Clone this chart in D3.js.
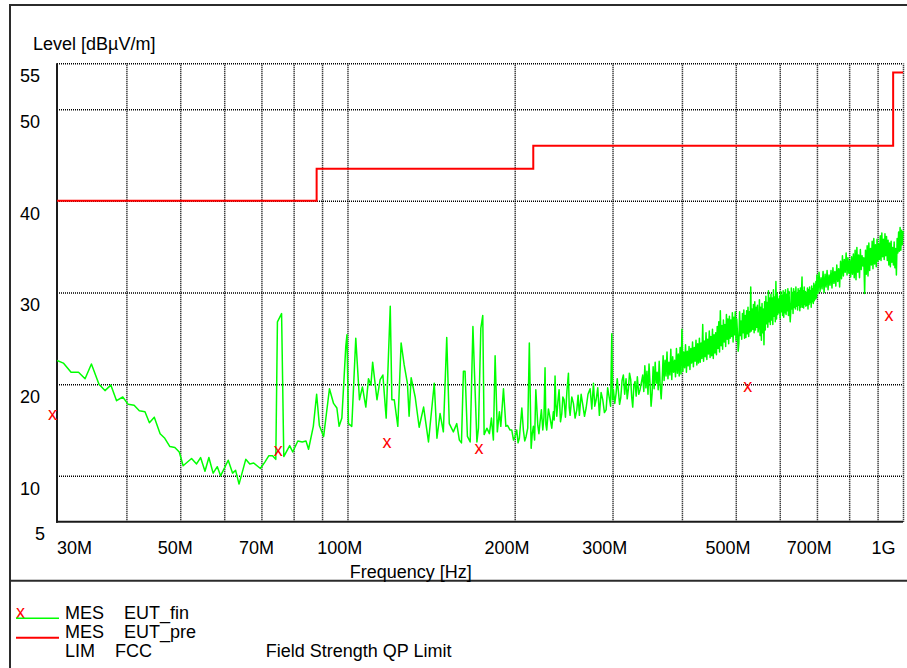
<!DOCTYPE html>
<html>
<head>
<meta charset="utf-8">
<script src="https://cdn.jsdelivr.net/npm/d3@7"></script>
<style>
  html, body { margin: 0; padding: 0; background: #fff; }
  svg { display: block; font-family: "Liberation Sans", Arial, sans-serif; }
</style>
</head>
<body>
<svg id="chart" width="907" height="668"></svg>
<script>
// ---- axis definitions ----
const yTickValues = [5, 10, 20, 30, 40, 50, 55];
const yGridValues = [10, 20, 30, 40, 50, 55];
const xGridMHz = [40, 50, 60, 70, 80, 90, 100, 200, 300, 400, 500, 600, 700, 800, 900, 1000];
const xLabelMHz = [30, 50, 70, 100, 200, 300, 500, 700, 1000];
const xLabelText = ["30M", "50M", "70M", "100M", "200M", "300M", "500M", "700M", "1G"];

// ---- FCC field strength QP limit (step line) ----
const limitMHz = [30, 88, 88, 216, 216, 960, 960, 1000];
const limitLevel = [40, 40, 43.5, 43.5, 46, 46, 54, 54];

// ---- final QP measurements (EUT_fin) ----
const finalMHz = [30.0, 76.5, 120.0, 175.8, 535.2, 961.8];
const finalLevel = [16.6, 12.7, 13.5, 12.9, 19.7, 27.4];

// ---- pre-scan trace (EUT_pre), 30 - 336 MHz: [MHz, dBµV/m] ----
const preScanLow = [
  [30.0,22.6],[30.8,22.3],[31.8,21.3],[32.8,21.3],[33.7,20.6],[34.6,22.2],[35.7,20.0],[36.6,19.3],
  [37.5,19.9],[38.4,18.2],[39.4,18.6],[40.3,17.8],[41.3,17.7],[42.2,17.1],[43.2,17.0],[44.0,15.8],
  [44.9,16.4],[46.0,14.6],[46.9,14.1],[47.9,13.2],[48.9,13.1],[49.8,12.6],[50.6,11.1],[52.4,11.9],
  [53.5,11.3],[54.4,12.0],[55.4,10.5],[56.3,12.0],[57.3,10.3],[58.3,11.0],[59.1,10.0],[61.0,11.7],
  [62.1,10.3],[62.9,10.6],[63.8,9.1],[65.6,11.8],[66.7,11.3],[67.8,11.4],[69.7,10.8],[71.0,11.5],
  [72.2,12.2],[73.3,12.2],[74.3,11.8],[74.8,26.8],[76.1,27.7],[76.8,12.1],[78.7,13.3],[79.7,12.6],
  [81.4,13.8],[82.9,13.7],[84.2,13.8],[85.1,12.9],[86.8,15.4],[88.0,18.9],[89.0,15.5],[90.6,14.3],
  [92.8,19.5],[94.4,17.9],[95.7,17.4],[96.6,15.4],[97.7,16.3],[99.3,24.1],[99.8,25.4],[100.4,15.7],
  [101.8,15.4],[103.5,25.0],[105.1,18.3],[106.4,19.7],[107.9,17.5],[109.1,20.6],[110.2,19.9],[111.0,22.4],
  [113.0,18.3],[114.5,20.5],[115.8,21.0],[117.4,16.3],[119.4,28.5],[120.2,18.3],[121.4,18.3],[123.2,15.4],
  [124.9,24.5],[126.5,22.1],[128.2,20.1],[129.1,16.5],[130.2,20.7],[132.4,18.6],[134.6,15.3],[137.1,17.5],
  [139.9,13.7],[143.3,20.1],[144.9,14.1],[146.8,16.8],[148.8,14.8],[150.9,25.1],[152.5,15.7],[155.1,14.8],
  [157.3,15.7],[159.0,13.9],[160.4,13.6],[161.7,21.4],[162.8,21.4],[164.4,14.3],[166.3,13.7],[168.2,26.3],
  [169.3,21.2],[171.0,13.7],[172.1,15.2],[173.8,26.1],[175.2,27.5],[176.2,14.5],[178.2,15.2],[180.1,14.6],
  [181.6,16.3],[183.1,13.9],[184.4,23.1],[186.1,14.8],[187.7,17.0],[188.8,15.4],[190.9,19.5],[192.8,15.4],
  [194.1,15.5],[196.2,15.0],[197.6,15.0],[199.0,13.9],[200.3,14.3],[201.7,15.0],[202.8,13.6],[203.9,14.1],
  [206.0,17.4],[207.3,15.0],[208.5,13.8],[209.7,14.3],[211.1,15.2],[212.5,24.5],[214.1,13.0],[215.1,14.6],
  [216.1,15.4],[217.2,13.9],[218.3,19.4],[220.1,15.5],[221.1,14.6],[222.2,15.9],[223.4,17.2],[224.7,15.0],
  [225.8,16.4],[226.8,21.8],[227.6,15.6],[228.4,15.0],[230.0,17.3],[231.6,16.3],[233.2,15.2],[234.8,17.0],
  [235.6,16.1],[236.4,20.9],[237.2,17.8],[238.1,16.5],[239.2,18.1],[240.4,19.4],[241.8,15.9],[243.1,16.8],
  [244.2,18.6],[245.4,18.3],[246.8,16.4],[248.3,19.2],[249.9,21.2],[250.7,17.5],[251.6,16.6],[253.4,18.6],
  [255.1,17.9],[256.9,16.3],[258.7,17.2],[260.1,18.8],[261.5,16.6],[263.4,18.9],[265.3,17.7],[267.1,16.5],
  [268.9,17.4],[271.0,18.9],[273.4,19.5],[275.3,17.3],[277.2,20.1],[278.7,17.6],[280.3,18.3],[282.2,19.6],
  [284.1,16.6],[286.1,19.1],[288.1,18.3],[290.1,16.9],[292.1,17.2],[294.0,19.6],[296.0,18.5],[297.6,17.6],
  [299.1,25.5],[300.1,18.3],[301.1,19.4],[302.8,17.9],[304.5,19.0],[305.9,20.6],[307.4,19.2],[308.9,17.8],
  [310.4,18.5],[312.1,20.4],[313.8,21.0],[315.5,18.9],[317.3,20.6],[318.8,18.4],[320.3,19.4],[321.9,21.2],
  [323.5,20.5],[324.8,18.6],[326.2,17.5],[327.7,19.8],[329.3,20.3],[330.9,18.7],[332.5,20.8],[334.4,18.9],
  [336.3,19.4]
];

// ---- pre-scan trace, 340 - 698.5 MHz sweep, 1.5 MHz step ----
const sweepMidStartMHz = 340;
const sweepMidStepMHz = 1.5;
const sweepMidLevel = [
  21.0, 19.2, 22.0, 19.6, 21.4, 18.9, 22.2, 20.0, 17.6, 19.0, 21.9, 19.5, 22.4, 20.1, 21.3, 19.4, 22.5, 19.9, 18.4, 20.3,
  23.1, 20.4, 22.6, 20.9, 23.5, 20.6, 22.4, 21.0, 23.8, 20.5, 23.0, 21.3, 22.6, 20.8, 23.9, 21.2, 23.3, 20.9, 24.0, 21.1,
  26.0, 21.4, 23.5, 21.8, 24.3, 21.3, 23.6, 22.0, 24.1, 21.6, 23.9, 22.3, 24.6, 21.9, 24.0, 22.5, 24.8, 22.1, 24.4, 22.3,
  25.0, 22.4, 24.5, 22.8, 26.5, 22.5, 24.7, 23.0, 25.6, 22.7, 24.9, 23.3, 25.8, 22.9, 25.2, 23.1, 26.0, 22.8, 25.4, 23.4,
  25.6, 23.2, 26.3, 23.9, 26.8, 23.5, 28.0, 24.2, 26.4, 23.8, 27.0, 24.6, 26.5, 24.1, 27.6, 24.9, 27.1, 24.4, 27.4, 25.0,
  27.0, 25.2, 27.8, 24.6, 27.3, 25.4, 27.9, 24.8, 27.1, 25.6, 23.6, 24.5, 27.9, 25.3, 26.9, 24.9, 27.7, 25.6, 28.1, 25.0,
  27.5, 25.1, 28.0, 25.5, 28.4, 25.2, 27.9, 25.7, 30.6, 25.8, 28.2, 26.0, 28.7, 25.6, 29.0, 25.9, 28.4, 26.2, 28.6, 25.7,
  26.3, 29.2, 25.3, 28.4, 24.8, 28.8, 25.6, 28.2, 24.3, 29.0, 25.9, 29.6, 26.6, 28.9, 26.2, 30.2, 26.8, 29.4, 26.5, 29.8,
  27.0, 29.4, 26.5, 30.3, 27.4, 29.5, 26.8, 31.2, 27.1, 29.9, 27.6, 29.3, 27.8, 29.6, 27.2, 30.1, 27.9, 29.7, 27.5, 30.2,
  27.3, 30.0, 27.8, 30.3, 27.6, 29.8, 28.0, 30.4, 27.5, 30.1, 28.3, 26.8, 27.9, 30.5, 28.2, 30.0, 27.7, 30.4, 28.4, 30.1,
  28.2, 30.6, 28.5, 29.9, 28.1, 30.4, 28.6, 30.2, 28.0, 30.5, 28.4, 30.0, 31.7, 28.4, 30.2, 28.3, 30.6, 28.7, 30.1, 28.5,
  30.0, 28.6, 30.5, 28.2, 30.3, 28.7, 30.6, 28.9, 30.2, 28.4, 30.7, 29.0, 30.4, 28.8, 31.0, 29.1, 30.8, 29.3, 31.2, 29.4
];

// ---- pre-scan trace, 700 - 1000 MHz sweep, 3 MHz step ----
const sweepHighStartMHz = 700;
const sweepHighStepMHz = 3;
const sweepHighLevel = [
  31.9, 29.9, 32.2, 30.1, 31.6, 30.4, 32.3, 30.0, 32.0, 30.6,
  32.4, 30.3, 31.9, 30.8, 32.4, 30.5, 32.7, 31.0, 32.3, 30.7,
  33.0, 31.2, 32.6, 30.6, 33.4, 31.5, 34.0, 31.8, 33.6, 32.2,
  34.3, 31.9, 33.8, 32.1, 33.5, 31.7, 33.9, 32.0, 34.2, 31.6,
  34.6, 31.4, 34.9, 32.2, 34.1, 31.6, 34.7, 32.5, 34.0, 32.9,
  33.8, 29.9, 34.6, 32.0, 35.1, 31.8, 35.4, 32.4, 34.8, 33.0,
  35.6, 32.6, 35.9, 33.1, 35.2, 32.8, 35.8, 33.4, 35.3, 33.6,
  36.2, 33.5, 36.5, 33.9, 35.8, 33.6, 36.4, 34.0, 36.1, 33.5,
  35.7, 33.0, 35.4, 32.8, 35.6, 33.3, 34.9, 33.0, 35.5, 32.7,
  34.8, 31.9, 35.9, 34.3, 36.6, 34.5, 37.1, 34.6, 36.8, 35.2,
  36.7
];

// ---- layout ----
const W = 907, H = 668;
const plot = { left: 57, right: 903, top: 63.3, bottom: 521.7 };
const FONT = 18;

const svg = d3.select("#chart");

const x = d3.scaleLog().domain([30, 1000]).range([plot.left, plot.right]);
const y = d3.scaleLinear().domain([5, 55]).range([plot.bottom, plot.top]);

// outer frame and legend separator
svg.append("rect")
  .attr("x", 10).attr("y", 5).attr("width", 920).attr("height", 700)
  .attr("fill", "none").attr("stroke", "#2b2b2b").attr("stroke-width", 2);
svg.append("line")
  .attr("x1", 10).attr("x2", W).attr("y1", 580.7).attr("y2", 580.7)
  .attr("stroke", "#2b2b2b").attr("stroke-width", 2);

// dotted grid
const gridStyle = g => {
  g.select(".domain").remove();
  g.selectAll(".tick line")
    .attr("stroke", "#000").attr("stroke-width", 1.5).attr("stroke-dasharray", "1,1");
};
svg.append("g")
  .attr("transform", `translate(0,${plot.bottom})`)
  .call(d3.axisBottom(x).tickValues(xGridMHz).tickFormat("").tickSize(-(plot.bottom - plot.top)).tickSizeOuter(0))
  .call(gridStyle);
svg.append("g")
  .attr("transform", `translate(${plot.left},0)`)
  .call(d3.axisLeft(y).tickValues(yGridValues).tickFormat("").tickSize(-(plot.right - plot.left)).tickSizeOuter(0))
  .call(gridStyle);

// solid axis lines
svg.append("line")
  .attr("x1", plot.left).attr("x2", plot.left).attr("y1", plot.top).attr("y2", plot.bottom + 1)
  .attr("stroke", "#1a1a1a").attr("stroke-width", 2);
svg.append("line")
  .attr("x1", plot.left - 1).attr("x2", plot.right).attr("y1", plot.bottom).attr("y2", plot.bottom)
  .attr("stroke", "#1a1a1a").attr("stroke-width", 2);

// y tick labels
const yAxis = svg.append("g")
  .attr("transform", `translate(${plot.left},0)`)
  .call(d3.axisLeft(y).tickValues(yTickValues).tickSize(0).tickFormat(d3.format("d")));
yAxis.select(".domain").remove();
yAxis.selectAll(".tick text")
  .attr("font-family", "\"Liberation Sans\", Arial, sans-serif")
  .attr("font-size", FONT).attr("fill", "#000")
  .attr("text-anchor", "start")
  .attr("x", d => d === 5 ? -22 : -37)
  .attr("dy", null)
  .attr("y", 18.3);

// x tick labels
const xAxis = svg.append("g")
  .attr("transform", `translate(0,${plot.bottom})`)
  .call(d3.axisBottom(x).tickValues(xLabelMHz).tickSize(0).tickFormat((d, i) => xLabelText[i]));
xAxis.select(".domain").remove();
xAxis.selectAll(".tick text")
  .attr("font-family", "\"Liberation Sans\", Arial, sans-serif")
  .attr("font-size", FONT).attr("fill", "#000")
  .attr("dy", null)
  .attr("y", 32.5)
  .attr("text-anchor", (d, i) => i === 0 ? "start" : (i === xLabelMHz.length - 1 ? "end" : "middle"))
  .attr("x", (d, i) => {
    if (i === 0) return -0.5;
    if (i === xLabelMHz.length - 1) return -8;
    return xLabelText[i].length >= 4 ? -8.3 : -5.5;
  });

// axis titles
svg.append("text").attr("x", 33).attr("y", 49.6)
  .attr("font-size", FONT).attr("fill", "#000").text("Level [dBµV/m]");
svg.append("text").attr("x", 410.8).attr("y", 578).attr("text-anchor", "middle")
  .attr("font-size", FONT).attr("fill", "#000").text("Frequency [Hz]");

// plot clip
svg.append("clipPath").attr("id", "plotClip")
  .append("rect").attr("x", plot.left).attr("y", plot.top - 2)
  .attr("width", plot.right - plot.left + 2).attr("height", plot.bottom - plot.top + 2);

// pre-scan trace
const sweepMid = sweepMidLevel.map((v, i) => [sweepMidStartMHz + i * sweepMidStepMHz, v]);
const sweepHigh = sweepHighLevel.map((v, i) => [sweepHighStartMHz + i * sweepHighStepMHz, v]);
const trace = preScanLow.concat(sweepMid, sweepHigh);
const line = d3.line().x(d => x(d[0])).y(d => y(d[1]));
svg.append("path")
  .datum(trace)
  .attr("clip-path", "url(#plotClip)")
  .attr("fill", "none").attr("stroke", "#00ff00").attr("stroke-width", 1.5)
  .attr("stroke-linejoin", "round")
  .attr("d", line);

// limit line
const limit = limitMHz.map((f, i) => [f, limitLevel[i]]);
svg.append("path")
  .datum(limit)
  .attr("fill", "none").attr("stroke", "#ff0000").attr("stroke-width", 2)
  .attr("d", line);

// final measurement markers
svg.append("g").selectAll("text")
  .data(finalMHz.map((f, i) => [f, finalLevel[i]]))
  .join("text")
  .attr("x", d => x(d[0]))
  .attr("y", d => y(d[1]) + 4.7)
  .attr("text-anchor", "end")
  .attr("font-size", FONT).attr("fill", "#ff0000")
  .text("x");

// legend
const legend = svg.append("g").attr("font-size", FONT).attr("fill", "#000");
legend.append("text").attr("x", 16).attr("y", 618).attr("fill", "#ff0000").text("x");
legend.append("line").attr("x1", 16).attr("x2", 59).attr("y1", 618.3).attr("y2", 618.3)
  .attr("stroke", "#00ff00").attr("stroke-width", 1.5);
legend.append("line").attr("x1", 16).attr("x2", 59).attr("y1", 637.7).attr("y2", 637.7)
  .attr("stroke", "#ff0000").attr("stroke-width", 2);
const legendRows = [
  { y: 619, cols: [[65, "MES"], [124, "EUT_fin"]] },
  { y: 638, cols: [[65, "MES"], [124, "EUT_pre"]] },
  { y: 657, cols: [[65, "LIM"], [115, "FCC"], [265.7, "Field Strength QP Limit"]] }
];
legendRows.forEach(r => r.cols.forEach(c => {
  legend.append("text").attr("x", c[0]).attr("y", r.y).text(c[1]);
}));
</script>
</body>
</html>
